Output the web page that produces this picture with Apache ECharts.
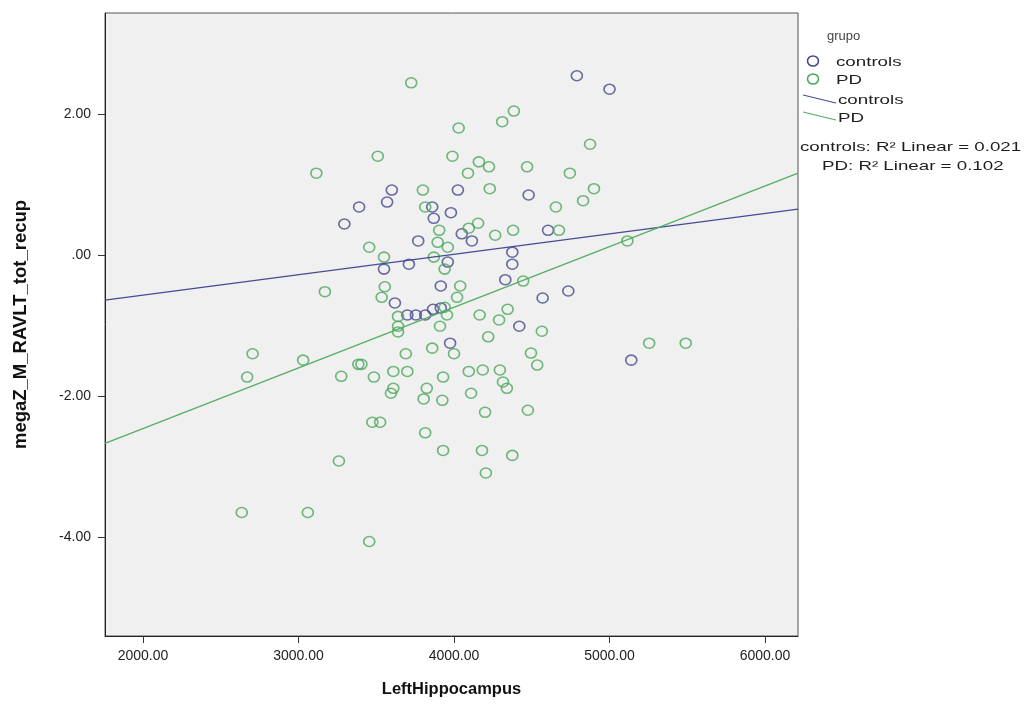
<!DOCTYPE html>
<html>
<head>
<meta charset="utf-8">
<title>megaZ_M_RAVLT_tot_recup vs LeftHippocampus</title>
<script src="https://cdn.jsdelivr.net/npm/echarts@6/dist/echarts.min.js"></script>
<style>
  html, body { margin: 0; padding: 0; background: #ffffff; }
  #chart { width: 1031px; height: 704px; }
</style>
</head>
<body>
<div id="chart"></div>
<script>
// LeftHippocampus volume, megaZ_M_RAVLT_tot_recup z-score
const controlsPoints = [
  [4790, 2.54], [5000, 2.35], [3600, 0.92], [4025, 0.92], [3390, 0.68],
  [3570, 0.75], [3295, 0.44], [3860, 0.68], [3870, 0.52], [3980, 0.60],
  [4050, 0.30], [4115, 0.20], [3770, 0.20], [3960, -0.10], [3710, -0.13],
  [3550, -0.20], [3915, -0.44], [4480, 0.85], [4605, 0.35], [4375, 0.04],
  [4375, -0.13], [4330, -0.35], [4735, -0.51], [4570, -0.61], [4420, -1.01],
  [5140, -1.49], [3620, -0.68], [3700, -0.85], [3755, -0.85], [3815, -0.85],
  [3865, -0.77], [3975, -1.25], [3915, -0.75]
];

const pdPoints = [
  [3725, 2.44], [4030, 1.80], [4310, 1.89], [4385, 2.04], [3510, 1.40],
  [3990, 1.40], [4160, 1.32], [4225, 1.25], [4090, 1.16], [3115, 1.16],
  [3800, 0.92], [4230, 0.94], [4875, 1.57], [4470, 1.25], [4745, 1.16],
  [4900, 0.94], [4830, 0.77], [4655, 0.68], [3815, 0.68], [3905, 0.35],
  [4095, 0.38], [4155, 0.45], [4265, 0.28], [3895, 0.18], [3960, 0.11],
  [3455, 0.11], [3550, -0.03], [3870, -0.03], [3940, -0.20], [3170, -0.52],
  [3555, -0.45], [4040, -0.44], [4020, -0.60], [3535, -0.60], [4380, 0.35],
  [4675, 0.35], [5115, 0.20], [4445, -0.37], [4345, -0.77], [4290, -0.92],
  [4565, -1.08], [5255, -1.25], [5490, -1.25], [4495, -1.39], [4535, -1.56],
  [4295, -1.63], [3940, -0.74], [3955, -0.85], [4165, -0.85], [3640, -0.87],
  [3640, -1.01], [3640, -1.09], [3910, -1.01], [4220, -1.16], [3860, -1.32],
  [3690, -1.40], [4000, -1.40], [3385, -1.55], [3405, -1.55], [3275, -1.72],
  [3485, -1.73], [3610, -1.65], [3700, -1.65], [3930, -1.73], [4095, -1.65],
  [4185, -1.63], [4315, -1.80], [4340, -1.89], [3610, -1.89], [3595, -1.96],
  [3825, -1.89], [3805, -2.04], [3925, -2.06], [4110, -1.96], [4200, -2.23],
  [4475, -2.20], [3475, -2.37], [3525, -2.37], [3815, -2.52], [3930, -2.77],
  [4180, -2.77], [4375, -2.84], [3260, -2.92], [4205, -3.09], [2635, -3.65],
  [3060, -3.65], [3455, -4.06], [2705, -1.40], [2670, -1.73], [3030, -1.49]
];

// Linear fit lines, drawn across the full x range
const controlsFit = [[1756, -0.64], [6212, 0.65]];
const pdFit = [[1756, -2.67], [6212, 1.16]];

const xTicks = [2000, 3000, 4000, 5000, 6000];
const yTicks = [-4, -2, 0, 2];
const xRange = [1756, 6212];
const yRange = [-5.40, 3.43];

const groupLabels = ['controls', 'PD'];
const rSquaredValues = ['0.021', '0.102'];

const blue = '#434a8c';
const green = '#4aa75a';
const blueLine = '#454b95';
const greenLine = '#52ae62';
const fontFamily = 'Liberation Sans, Arial, sans-serif';

const fmtY = v => v.toFixed(2).replace(/^(-?)0\./, '$1.');
const fmtX = v => v.toFixed(2);

// Key text is drawn slightly widened, as in the SPSS export
const keyStretch = 1.44;
function keyText(x, y, text, size) {
  return {
    type: 'text',
    x: x,
    y: y,
    scaleX: keyStretch,
    style: {
      text: text,
      x: 0,
      y: 0,
      fontSize: size,
      fontFamily: fontFamily,
      fill: '#1e1e1e',
      verticalAlign: 'middle',
      align: 'left'
    }
  };
}
function keyCircle(cx, cy, color) {
  return {
    type: 'ellipse',
    shape: { cx: cx, cy: cy, rx: 5.5, ry: 5 },
    style: { fill: 'none', stroke: color, lineWidth: 1.6 }
  };
}
function keyLine(x1, y1, x2, y2, color) {
  return {
    type: 'line',
    shape: { x1: x1, y1: y1, x2: x2, y2: y2 },
    style: { stroke: color, lineWidth: 1.2 }
  };
}

const chart = echarts.init(document.getElementById('chart'), null, { renderer: 'canvas' });

const option = {
  backgroundColor: '#ffffff',
  animation: false,
  textStyle: { fontFamily: fontFamily },
  grid: {
    left: 105,
    top: 13,
    right: 233,
    bottom: 68,
    show: true,
    backgroundColor: '#f0f0f0',
    borderColor: '#555',
    borderWidth: 1
  },
  xAxis: {
    type: 'value',
    min: xRange[0],
    max: xRange[1],
    name: 'LeftHippocampus',
    nameLocation: 'middle',
    nameGap: 45,
    nameTextStyle: { fontSize: 16.5, fontWeight: 'bold', color: '#111' },
    axisLine: { show: true, onZero: false, lineStyle: { color: '#222', width: 1 } },
    axisTick: { show: true, inside: false, length: 7, customValues: xTicks, lineStyle: { color: '#333' } },
    axisLabel: { customValues: xTicks, formatter: fmtX, margin: 13, fontSize: 14, color: '#222' },
    splitLine: { show: false }
  },
  yAxis: {
    type: 'value',
    min: yRange[0],
    max: yRange[1],
    name: 'megaZ_M_RAVLT_tot_recup',
    nameLocation: 'middle',
    nameRotate: 90,
    nameGap: 75,
    nameTextStyle: { fontSize: 18.5, fontWeight: 'bold', color: '#111' },
    axisLine: { show: true, onZero: false, lineStyle: { color: '#222', width: 1 } },
    axisTick: { show: true, inside: false, length: 7, customValues: yTicks, lineStyle: { color: '#333' } },
    axisLabel: { customValues: yTicks, formatter: fmtY, margin: 14, fontSize: 14, color: '#222' },
    splitLine: { show: false }
  },
  graphic: [
    {
      type: 'text',
      x: 827,
      y: 36,
      style: { text: 'grupo', fontSize: 13, fontFamily: fontFamily, fill: '#444', verticalAlign: 'middle' }
    },
    keyCircle(813, 61, blue),
    keyText(836, 62, groupLabels[0], 13),
    keyCircle(813, 79, green),
    keyText(836, 80, groupLabels[1], 13),
    keyLine(803, 95, 836, 103, blueLine),
    keyText(838, 100, groupLabels[0], 13),
    keyLine(803, 112, 836, 120, greenLine),
    keyText(838, 118, groupLabels[1], 13),
    keyText(800, 147, groupLabels[0] + ': R\u00b2 Linear = ' + rSquaredValues[0], 13),
    keyText(822, 166, groupLabels[1] + ': R\u00b2 Linear = ' + rSquaredValues[1], 13)
  ],
  series: [
    {
      name: groupLabels[0],
      type: 'scatter',
      data: controlsPoints,
      symbol: 'circle',
      symbolSize: [11, 10],
      itemStyle: { color: 'transparent', borderColor: blue, borderWidth: 1.6 },
      z: 3
    },
    {
      name: groupLabels[1],
      type: 'scatter',
      data: pdPoints,
      symbol: 'circle',
      symbolSize: [11, 10],
      itemStyle: { color: 'transparent', borderColor: green, borderWidth: 1.6 },
      z: 3
    },
    {
      name: groupLabels[0] + ' fit',
      type: 'line',
      data: controlsFit,
      showSymbol: false,
      symbol: 'none',
      lineStyle: { color: blueLine, width: 1.2 },
      z: 4
    },
    {
      name: groupLabels[1] + ' fit',
      type: 'line',
      data: pdFit,
      showSymbol: false,
      symbol: 'none',
      lineStyle: { color: greenLine, width: 1.2 },
      z: 4
    }
  ]
};

chart.setOption(option);
</script>
</body>
</html>
